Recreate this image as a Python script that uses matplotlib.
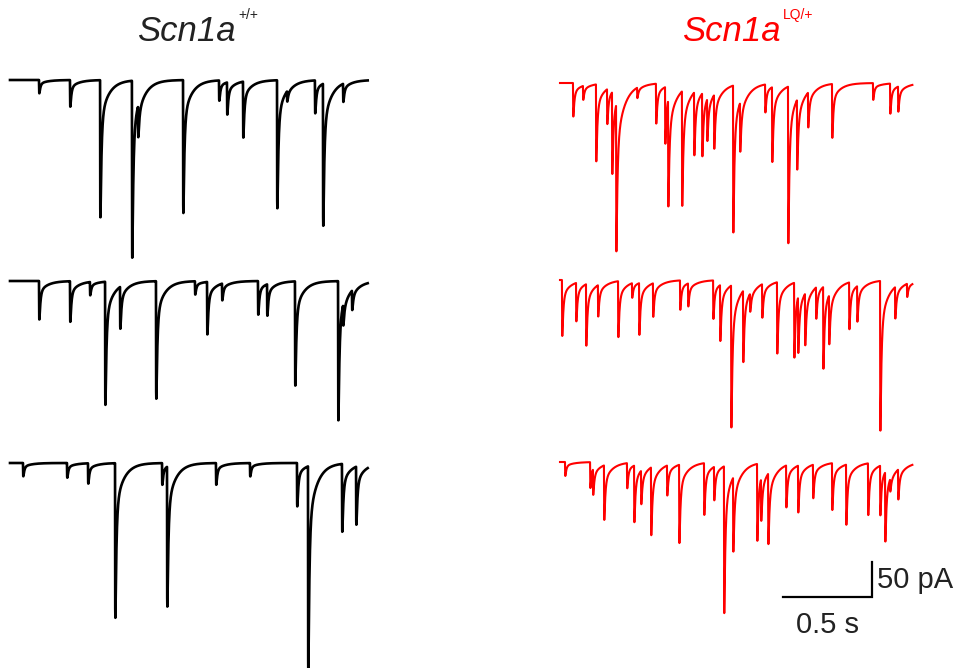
import numpy as np
import matplotlib
matplotlib.use("Agg")
import matplotlib.pyplot as plt

plt.rcParams['font.family'] = ['Liberation Sans', 'DejaVu Sans']

# ---------------- data (event times in s from trace start, amplitudes in pA) ----------------
wt1_times = [0.163, 0.337, 0.506, 0.685, 0.719, 0.972, 1.174, 1.219, 1.309, 1.500, 1.556, 1.713, 1.758, 1.871]
wt1_amps  = [19, 38, 196, 253, 45, 190, 29, 46, 80, 183, 15, 47, 203, 26]

wt2_times = [0.163, 0.337, 0.449, 0.534, 0.618, 0.820, 1.039, 1.107, 1.191, 1.393, 1.444, 1.601, 1.843, 1.871, 1.921]
wt2_amps  = [55, 58, 19, 176, 60, 168, 19, 75, 24, 48, 45, 149, 199, 30, 28]

wt3_times = [0.073, 0.320, 0.438, 0.590, 0.854, 0.882, 1.157, 1.348, 1.612, 1.674, 1.865, 1.944]
wt3_amps  = [19, 21, 29, 221, 31, 200, 31, 19, 62, 293, 97, 83]

lq1_times = [0.073, 0.129, 0.202, 0.264, 0.292, 0.315, 0.433, 0.539, 0.590, 0.607, 0.685, 0.753, 0.798,
             0.826, 0.865, 0.972, 1.011, 1.152, 1.191, 1.281, 1.331, 1.393, 1.528, 1.758, 1.854, 1.899]
lq1_amps  = [48, 20, 110, 50, 117, 210, 15, 57, 81, 152, 164, 90, 90,
             60, 77, 210, 70, 40, 107, 224, 100, 50, 77, 24, 43, 36]

lq2_times = [0.011, 0.090, 0.146, 0.213, 0.326, 0.404, 0.444, 0.522, 0.674, 0.719, 0.860, 0.899, 0.961,
             1.028, 1.067, 1.135, 1.219, 1.315, 1.337, 1.376, 1.438, 1.478, 1.511, 1.624, 1.669, 1.798,
             1.882, 1.949]
lq2_amps  = [80, 55, 88, 45, 80, 21, 74, 48, 42, 33, 55, 80, 203,
             102, 26, 48, 102, 107, 80, 74, 45, 117, 70, 67, 51, 214,
             45, 19]

lq3_times = [0.028, 0.169, 0.185, 0.247, 0.376, 0.416, 0.455, 0.511, 0.601, 0.669, 0.809, 0.865, 0.921,
             0.972, 1.107, 1.129, 1.169, 1.270, 1.337, 1.421, 1.528, 1.607, 1.730, 1.798, 1.826, 1.854,
             1.899]
lq3_amps  = [20, 37, 37, 78, 36, 81, 48, 97, 43, 112, 74, 48, 210,
             106, 110, 60, 101, 60, 67, 48, 67, 86, 74, 71, 99, 18,
             43]

durations = [2.01, 1.98]
scale_time = 0.5   # s
scale_curr = 50    # pA
title_main = "Scn1a"
title_sup = ["+/+", "LQ/+"]
colors = ["black", "#ff0000"]

# ---------------- layout ----------------
W, H = 961, 668
PX_PER_S = 178.0
PX_PER_PA = 0.70

fig = plt.figure(figsize=(W / 100, H / 100), dpi=100)
ax = fig.add_axes([0, 0, 1, 1])
ax.set_xlim(0, W / PX_PER_S)
ax.set_ylim(-H / PX_PER_PA, 0)
ax.axis("off")

def kernel(s):
    return (1 - np.exp(-s / 0.0008)) * (0.78 * np.exp(-s / 0.006) + 0.22 * np.exp(-s / 0.045))

_s = np.arange(0, 0.05, 0.0001)
KPEAK = kernel(_s).max()

def make_trace(times, amps, dur, dt=0.0004):
    t = np.arange(0, dur, dt)
    y = np.zeros_like(t)
    for t0, a in zip(times, amps):
        s = t - t0
        m = s >= 0
        y[m] -= a * kernel(s[m]) / KPEAK
    return t, y

columns = [
    (10, [(wt1_times, wt1_amps, 80), (wt2_times, wt2_amps, 281), (wt3_times, wt3_amps, 463)]),
    (560, [(lq1_times, lq1_amps, 83), (lq2_times, lq2_amps, 280), (lq3_times, lq3_amps, 462)]),
]

for ci, (x0px, rows) in enumerate(columns):
    for times, amps, base_px in rows:
        t, y = make_trace(times, amps, durations[ci])
        ax.plot(x0px / PX_PER_S + t, -base_px / PX_PER_PA + y,
                color=colors[ci], lw=1.9 if ci == 0 else 1.5, solid_joinstyle="round")

# scale bar
corner_x, corner_y = 872 / PX_PER_S, -597 / PX_PER_PA
ax.plot([corner_x - scale_time, corner_x, corner_x],
        [corner_y, corner_y, corner_y + scale_curr], color="black", lw=1.6,
        solid_joinstyle="miter")
ax.text(corner_x + 5 / PX_PER_S, corner_y + scale_curr / 2, f"{scale_curr} pA",
        ha="left", va="center", fontsize=21, color="#222222")
ax.text(corner_x - scale_time / 2, corner_y - 28 / PX_PER_PA, f"{scale_time} s",
        ha="center", va="center", fontsize=21, color="#222222")

# titles
for (xr, sx), sup, col in zip([(236, 238), (781, 783)], title_sup, colors):
    fig.text(xr / W, 1 - 41 / H, title_main, ha="right", va="baseline",
             fontsize=25, style="italic", color=col if col != "black" else "#222222")
    fig.text(sx / W, 1 - 19 / H, sup, ha="left", va="baseline",
             fontsize=10, color=col if col != "black" else "#222222")

fig.savefig("out.png", dpi=100)
